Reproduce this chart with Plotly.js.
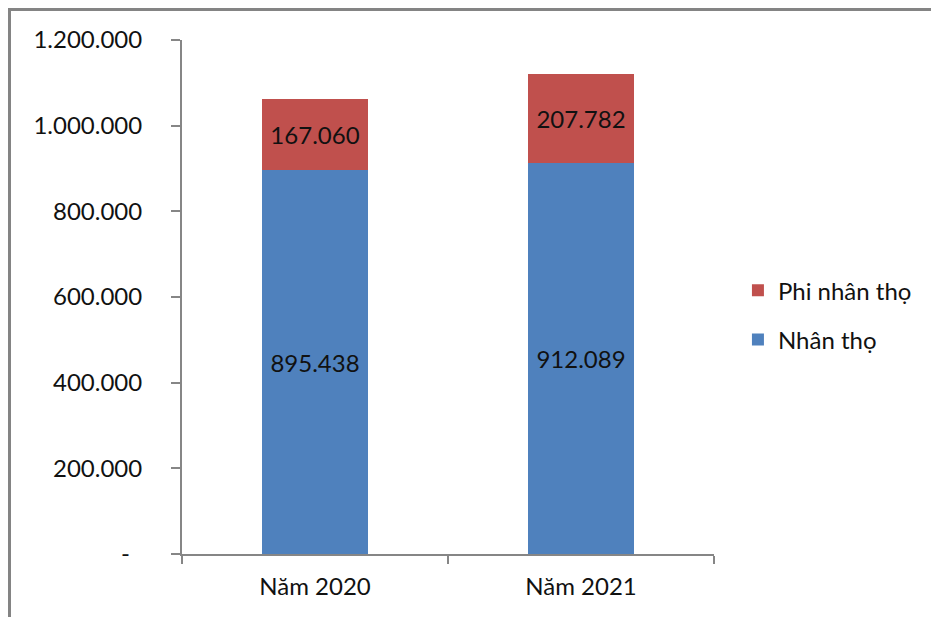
<!DOCTYPE html>
<html>
<head>
<meta charset="utf-8">
<script src="https://cdn.plot.ly/plotly-3.0.1.min.js"></script>
<style>
  html, body { margin: 0; padding: 0; background: #fff; }
  #wrap { position: relative; width: 931px; height: 617px; overflow: hidden; }
  #chart { position: absolute; left: 0; top: 0; width: 931px; height: 617px; }
  #frame {
    position: absolute; left: 8px; top: 8px; width: 1000px; height: 700px;
    border-top: 3px solid #848484; border-left: 3px solid #848484;
    pointer-events: none;
  }
</style>
</head>
<body>
<div id="wrap">
  <div id="chart"></div>
  <div id="frame"></div>
</div>
<script>
// Doanh thu phí bảo hiểm theo năm
const years = ['Năm 2020', 'Năm 2021'];
const nhanTho = [895438, 912089];
const phiNhanTho = [167060, 207782];
const yTicks = [0, 200000, 400000, 600000, 800000, 1000000, 1200000];

const fmt = v => v.toLocaleString('de-DE');
const yTickText = yTicks.map(v => v === 0 ? '-\u00a0\u00a0' : fmt(v));

const FONT = 'Lato, "Open Sans", sans-serif';
const AXIS = '#868686';

const traces = [
  {
    type: 'bar', name: 'Nhân thọ', x: years, y: nhanTho,
    text: nhanTho.map(fmt), textposition: 'inside', insidetextanchor: 'middle',
    constraintext: 'none', textangle: 0,
    textfont: {family: FONT, size: 24, color: '#111'},
    marker: {color: '#4F81BD'}, legendgroup: 'a', legendrank: 2, hoverinfo: 'skip'
  },
  {
    type: 'bar', name: 'Phi nhân thọ', x: years, y: phiNhanTho,
    text: phiNhanTho.map(fmt), textposition: 'inside', insidetextanchor: 'middle',
    constraintext: 'none', textangle: 0,
    textfont: {family: FONT, size: 24, color: '#111'},
    marker: {color: '#C0504D'}, legendgroup: 'b', legendrank: 1, hoverinfo: 'skip'
  }
];

const layout = {
  width: 931, height: 617,
  margin: {l: 182, r: 217, t: 39.5, b: 63},
  paper_bgcolor: '#fff', plot_bgcolor: '#fff',
  barmode: 'stack', bargap: 0.6,
  font: {family: FONT, size: 24, color: '#111'},
  xaxis: {
    type: 'category', showgrid: false, zeroline: false,
    showline: true, linecolor: AXIS, linewidth: 2,
    ticks: 'outside', tickson: 'boundaries', ticklen: 8, tickwidth: 2, tickcolor: AXIS,
    tickfont: {family: FONT, size: 24, color: '#111'},
    ticklabelstandoff: 10
  },
  yaxis: {
    range: [0, 1200000], showgrid: false, zeroline: false,
    showline: true, linecolor: AXIS, linewidth: 2,
    ticks: 'outside', ticklen: 9, tickwidth: 2, tickcolor: AXIS,
    tickvals: yTicks, ticktext: yTickText,
    tickfont: {family: FONT, size: 24, color: '#111'},
    ticklabelstandoff: 24
  },
  showlegend: true,
  legend: {
    x: 1.045, xanchor: 'left', y: 0.4645, yanchor: 'middle',
    traceorder: 'grouped', tracegroupgap: 15,
    font: {family: FONT, size: 24, color: '#111'},
    bgcolor: 'rgba(0,0,0,0)'
  }
};

Plotly.newPlot('chart', traces, layout, {displayModeBar: false, staticPlot: true});
</script>
</body>
</html>
